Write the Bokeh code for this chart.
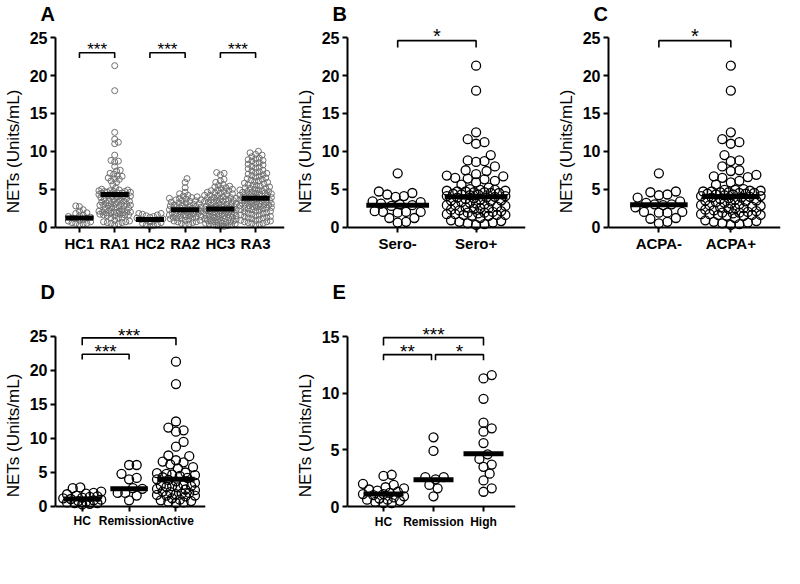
import math
from bokeh.plotting import figure
from bokeh.models import Range1d, FixedTicker, Label
from bokeh.layouts import row, column
from bokeh.embed import file_html
from bokeh.resources import INLINE

FONT = "Liberation Sans"

# ---------------- data ----------------
hc1 = [2.8, 2.7, 2.3, 2.1, 1.9, 1.8, 1.6, 1.5, 1.4, 1.3, 1.2, 1.2, 1.1, 1.0,
       0.9, 0.8, 0.7, 0.6, 0.5, 0.5, 0.4, 0.3]
hc2 = [1.8, 1.8, 1.7, 1.6, 1.5, 1.4, 1.3, 1.2, 1.1, 1.0, 1.0, 0.9, 0.8, 0.7,
       0.6, 0.5, 0.4, 0.3, 0.2, 0.1]
ra2 = [6.4, 5.9, 5.2, 4.6, 4.4, 4.2, 4.1, 4.0,
       3.9, 3.8, 3.7, 3.6, 3.5, 3.4, 3.3, 3.2, 3.1, 3.0, 3.8, 3.5, 3.2, 3.6,
       2.9, 2.8, 2.7, 2.6, 2.5, 2.4, 2.3, 2.2, 2.1, 2.0, 2.9, 2.7, 2.5, 2.3,
       2.1, 2.8, 2.6, 2.4, 2.2, 2.0,
       1.9, 1.8, 1.7, 1.6, 1.5, 1.4, 1.3, 1.2, 1.1, 1.0, 1.9, 1.7, 1.5, 1.3,
       1.1, 1.6, 1.4, 1.2,
       0.9, 0.8, 0.7, 0.6, 0.5, 0.4, 0.3, 0.9, 0.7]
hc3 = [7.2, 7.1, 6.9, 6.3, 6.1,
       5.9, 5.6, 5.5, 5.4, 5.3, 5.2, 5.1, 5.0,
       4.9, 4.8, 4.7, 4.6, 4.5, 4.4, 4.3, 4.2, 4.1, 4.0, 4.8, 4.5, 4.2,
       3.9, 3.8, 3.7, 3.6, 3.5, 3.4, 3.3, 3.2, 3.1, 3.0, 3.9, 3.7, 3.5, 3.3,
       3.1, 3.8, 3.6, 3.4,
       2.9, 2.8, 2.7, 2.6, 2.5, 2.4, 2.3, 2.2, 2.1, 2.0, 2.9, 2.7, 2.5, 2.3,
       2.1, 2.8, 2.6, 2.4, 2.2, 2.0, 2.5, 2.3,
       1.9, 1.8, 1.7, 1.6, 1.5, 1.4, 1.3, 1.2, 1.1, 1.0, 1.9, 1.7, 1.5, 1.3,
       1.1, 1.8, 1.6, 1.4, 1.2, 1.0, 1.5,
       0.9, 0.8, 0.7, 0.6, 0.5, 0.4, 0.3, 0.2, 0.1, 0.9, 0.7, 0.5, 0.3, 0.1,
       0.8, 0.6, 0.4, 0.2]
ra3 = [10.0, 9.8, 9.6, 9.5, 9.3, 9.1, 9.0,
       8.9, 8.7, 8.5, 8.3, 8.2, 8.0, 8.8, 8.4,
       7.9, 7.7, 7.5, 7.3, 7.1, 7.0, 7.8, 7.4, 7.2,
       6.9, 6.7, 6.5, 6.3, 6.1, 6.0, 6.8, 6.4, 6.2, 6.6,
       5.9, 5.7, 5.5, 5.3, 5.1, 5.0, 5.8, 5.6, 5.4, 5.2, 5.5, 5.1,
       4.9, 4.8, 4.7, 4.6, 4.5, 4.4, 4.3, 4.2, 4.1, 4.0, 4.9, 4.7, 4.5, 4.3,
       4.1, 4.6, 4.4, 4.2,
       3.9, 3.8, 3.7, 3.6, 3.5, 3.4, 3.3, 3.2, 3.1, 3.0, 3.9, 3.7, 3.5, 3.3,
       3.1, 3.8, 3.6, 3.4, 3.2, 3.0,
       2.9, 2.8, 2.7, 2.6, 2.5, 2.4, 2.3, 2.2, 2.1, 2.0, 2.9, 2.7, 2.5, 2.3,
       2.1, 2.8, 2.6, 2.4,
       1.9, 1.8, 1.7, 1.6, 1.5, 1.4, 1.3, 1.2, 1.1, 1.0, 1.8, 1.6, 1.4, 1.2,
       0.9, 0.8, 0.7, 0.6, 0.5, 0.4, 0.3, 0.9, 0.7, 0.5]

sero_neg = [7.1, 4.7, 4.5, 4.3, 4.1, 4.0, 3.4, 3.3, 3.1, 3.0, 2.9, 2.8, 2.1,
            2.0, 2.0, 2.0, 1.9, 1.2, 1.2, 0.7, 0.6]
sero_pos = [21.3, 18.0, 12.5, 11.6, 11.2, 11.0, 9.5, 8.8, 8.7, 8.6, 8.0, 7.5,
            7.4, 7.0, 6.8, 6.7, 6.5, 6.4, 6.3, 6.1, 5.9, 5.6, 5.2,
            5.0, 4.9, 4.8, 4.7, 4.6, 4.5, 4.4, 4.3, 4.2, 4.1, 4.0, 4.9, 4.7,
            4.5, 4.3, 4.1, 4.8, 4.6,
            3.9, 3.7, 3.5, 3.3, 3.1, 3.8, 3.6, 3.4, 3.2, 3.0, 3.9, 3.5,
            2.9, 2.7, 2.5, 2.3, 2.1, 2.8, 2.6, 2.4, 2.2, 2.0, 2.9, 2.5,
            1.9, 1.7, 1.6, 1.5, 1.8, 1.6, 1.7, 1.5, 1.9, 1.6, 1.2,
            0.9, 0.7, 0.5, 0.3, 0.8, 0.6, 0.4]
ra1 = sero_neg + sero_pos

acpa_neg = [7.1, 4.7, 4.6, 4.3, 4.2, 3.9, 3.4, 3.2, 3.0, 3.0, 2.9, 2.6, 2.0,
            2.0, 1.9, 1.9, 1.2, 1.1, 0.7, 0.5]
acpa_pos = [21.3, 18.0, 12.5, 11.6, 11.2, 11.0, 9.5, 8.8, 8.7, 8.0, 7.5, 7.4,
            6.9, 6.7, 6.6, 6.5, 6.1, 5.9, 5.6,
            5.0, 4.9, 4.8, 4.7, 4.6, 4.5, 4.4, 4.3, 4.2, 4.1, 4.0, 4.9, 4.7,
            4.5, 4.3, 4.1, 4.8, 4.6, 4.4,
            3.9, 3.7, 3.5, 3.3, 3.1, 3.8, 3.6, 3.4, 3.2, 3.0, 3.9, 3.5,
            2.9, 2.7, 2.5, 2.3, 2.1, 2.8, 2.6, 2.4, 2.2, 2.0, 2.9, 2.5,
            1.9, 1.7, 1.6, 1.5, 1.8, 1.6, 1.7, 1.5, 1.9, 1.6, 1.2,
            0.9, 0.7, 0.5, 0.3, 0.8, 0.6, 0.4]

d_hc = [2.8, 2.7, 2.2, 2.0, 1.9, 1.8, 1.6, 1.5, 1.4, 1.3, 1.2, 1.1, 1.0, 0.9,
        0.8, 0.7, 0.6, 0.5, 0.5, 0.4, 0.3]
d_remission = [6.1, 6.1, 4.8, 4.2, 4.0, 2.7, 2.6, 2.0, 2.0, 1.6, 0.9]
d_active = [21.3, 18.0, 12.5, 11.6, 11.2, 11.0, 9.5, 8.8, 7.5, 7.4, 6.8, 6.6,
            6.5, 6.2, 5.8, 5.6, 5.0, 4.9, 4.8, 4.7, 4.6, 4.5, 4.3, 4.2, 4.0,
            3.9, 3.7, 3.5, 3.2, 3.1, 3.0, 3.0, 2.9, 2.8, 2.6, 2.5, 2.4, 2.2,
            2.1, 2.0, 1.9, 1.8, 1.7, 1.6, 1.6, 1.5, 1.2, 1.0, 0.9, 0.8, 0.7,
            0.6, 0.5]

e_hc = [2.7, 2.8, 2.0, 1.9, 1.7, 1.6, 1.5, 1.4, 1.3, 1.2, 1.1, 1.0, 0.9, 0.8,
        0.7, 0.6, 0.5, 0.4, 0.3, 0.3, 1.1, 0.6]
e_remission = [6.1, 4.9, 2.6, 2.6, 2.4, 1.9, 1.6, 0.9]
e_high = [11.6, 11.3, 9.5, 7.4, 6.9, 6.6, 5.6, 4.6, 4.2, 3.7, 3.5, 2.9, 2.3,
          1.6, 1.3]

a_labels = ["HC1", "RA1", "HC2", "RA2", "HC3", "RA3"]
a_groups = [hc1, ra1, hc2, ra2, hc3, ra3]
a_medians = [1.2, 4.3, 1.0, 2.3, 2.4, 3.8]
a_brackets = [(0, 1, 23.0, 22.3, "***"), (2, 3, 23.0, 22.3, "***"),
              (4, 5, 23.0, 22.3, "***")]

b_labels = ["Sero-", "Sero+"]
b_groups = [sero_neg, sero_pos]
b_medians = [2.9, 4.0]
b_brackets = [(0, 1, 24.6, 23.7, "*")]

c_labels = ["ACPA-", "ACPA+"]
c_groups = [acpa_neg, acpa_pos]
c_medians = [2.95, 4.05]
c_brackets = [(0, 1, 24.6, 23.7, "*")]

d_labels = ["HC", "Remission", "Active"]
d_groups = [d_hc, d_remission, d_active]
d_medians = [1.1, 2.6, 4.0]
d_brackets = [(0, 1, 22.4, 21.6, "***"), (0, 2, 24.8, 23.7, "***")]

e_labels = ["HC", "Remission", "High"]
e_groups = [e_hc, e_remission, e_high]
e_medians = [1.1, 2.35, 4.65]
e_brackets = [(0, 0.96, 13.4, 12.9, "**"), (1.04, 2, 13.4, 12.9, "*"),
              (0, 2, 14.9, 14.2, "***")]


# ---------------- helpers ----------------
def swarm(vals, diam, ppx, ppy, max_px):
    """Deterministic beeswarm: horizontal offsets (data units) for a column."""
    n = len(vals)
    order = sorted(range(n), key=lambda i: vals[i])
    placed = []
    offs = [0.0] * n
    step = diam / 4.0
    cands = [0.0]
    k = 1
    while k * step <= max_px:
        cands += [k * step, -k * step]
        k += 1
    for i in order:
        yp = vals[i] * ppy
        near = [(px, py) for (px, py) in placed if abs(py - yp) < diam]
        best = None
        best_c, best_s = 0.0, -1.0
        for c in cands:
            md = min([math.hypot(c - px, yp - py) for px, py in near], default=1e9)
            if md >= diam:
                best = c
                break
            if md > best_s:
                best_s, best_c = md, c
        if best is None:
            best = best_c
        placed.append((best, yp))
        offs[i] = best / ppx
    return offs


def panel(letter, labels, groups, medians, brackets, xr, yr, ymax, yticks,
          width, height, left, right, fh_est, mrad, mcolor, mwidth,
          sw_diam, sw_max, star_size, star_gap, xlab_size):
    p = figure(width=width, height=height, output_backend="svg",
               toolbar_location=None, x_range=Range1d(*xr),
               y_range=Range1d(*yr),
               min_border_left=left, min_border_right=right,
               min_border_top=0, min_border_bottom=0)
    p.outline_line_color = None
    p.grid.visible = False

    fw = width - left - right
    ppx = fw / (xr[1] - xr[0])
    ppy = fh_est / (yr[1] - yr[0])

    for i, vals in enumerate(groups):
        offs = swarm(vals, sw_diam, ppx, ppy, sw_max)
        xs = [i + o for o in offs]
        p.circle(xs, vals, radius=mrad, radius_units="screen",
                 fill_color=None, line_color=mcolor, line_width=mwidth)
    for i, m in enumerate(medians):
        p.segment(x0=[i - 0.4], x1=[i + 0.4], y0=[m], y1=[m],
                  line_color="black", line_width=5)
    fs = float(star_size.replace("px", ""))
    for (x0, x1, yt, yd, s) in brackets:
        p.line([x0, x0, x1, x1], [yd, yt, yt, yd], line_color="black",
               line_width=1.6)
        p.add_layout(Label(x=(x0 + x1) / 2,
                           y=yt + (star_gap - 0.16 * fs) / ppy, text=s,
                           text_align="center", text_baseline="alphabetic",
                           text_font=FONT, text_font_size=star_size,
                           text_color="black"))

    cat_x = list(range(len(labels)))
    p.xaxis.ticker = FixedTicker(ticks=cat_x)
    p.xaxis.major_label_overrides = {i: l for i, l in enumerate(labels)}
    p.xaxis.fixed_location = 0
    p.xaxis.major_label_orientation = "horizontal"
    p.yaxis.ticker = FixedTicker(ticks=yticks)
    p.yaxis.bounds = (0, ymax)
    for ax in (p.xaxis, p.yaxis):
        ax.axis_line_width = 2
        ax.axis_line_color = "black"
        ax.major_tick_line_width = 2
        ax.major_tick_line_color = "black"
        ax.major_tick_out = 5
        ax.major_tick_in = 0
        ax.minor_tick_line_color = None
        ax.major_label_text_font = FONT
        ax.major_label_text_font_style = "bold"
        ax.major_label_text_color = "black"
        ax.major_label_standoff = 3
    p.xaxis.major_label_text_font_size = xlab_size
    p.yaxis.major_label_text_font_size = "16px"
    p.yaxis.axis_label = "NETs (Units/mL)"
    p.yaxis.axis_label_text_font = FONT
    p.yaxis.axis_label_text_font_style = "normal"
    p.yaxis.axis_label_text_font_size = "17px"
    p.yaxis.axis_label_text_color = "black"
    p.yaxis.axis_label_standoff = 4

    p.title.text = letter
    p.title.text_font = FONT
    p.title.text_font_size = "20px"
    p.title.text_font_style = "bold"
    p.title.text_color = "black"
    p.title.align = "left"
    p.title.offset = -15
    p.title.standoff = 0
    return p


Y25 = [0, 5, 10, 15, 20, 25]
pA = panel("A", a_labels, a_groups, a_medians, a_brackets, (-0.68, 5.82),
           (-6.78, 26.73), 25, Y25, 292, 278, 37, 8, 252,
           3.0, "#707070", 1, 4.0, 17, "17px", 6.0, "15px")
pB = panel("B", b_labels, b_groups, b_medians, b_brackets, (-0.64, 1.63),
           (-6.78, 26.73), 25, Y25, 246, 278, 52, 13, 252,
           4.5, "black", 1.3, 8.5, 30, "20px", 7.5, "15px")
pC = panel("C", c_labels, c_groups, c_medians, c_brackets, (-0.7, 1.69),
           (-6.78, 26.73), 25, Y25, 246, 278, 70, 4, 252,
           4.5, "black", 1.3, 8.5, 30, "20px", 7.5, "15px")
pD = panel("D", d_labels, d_groups, d_medians, d_brackets, (-0.57, 2.63),
           (-9.12, 30.0), 25, Y25, 292, 290, 37, 87, 266,
           4.5, "black", 1.3, 8.5, 22, "19px", 5.5, "12px")
pE = panel("E", e_labels, e_groups, e_medians, e_brackets, (-0.72, 2.64),
           (-5.47, 18.0), 15, [0, 5, 10, 15], 246, 290, 49, 23, 266,
           4.5, "black", 1.3, 8.5, 22, "19px", 6.5, "12px")

layout = column(row(pA, pB, pC), row(pD, pE))
open("out.html", "w").write(file_html(layout, INLINE))
